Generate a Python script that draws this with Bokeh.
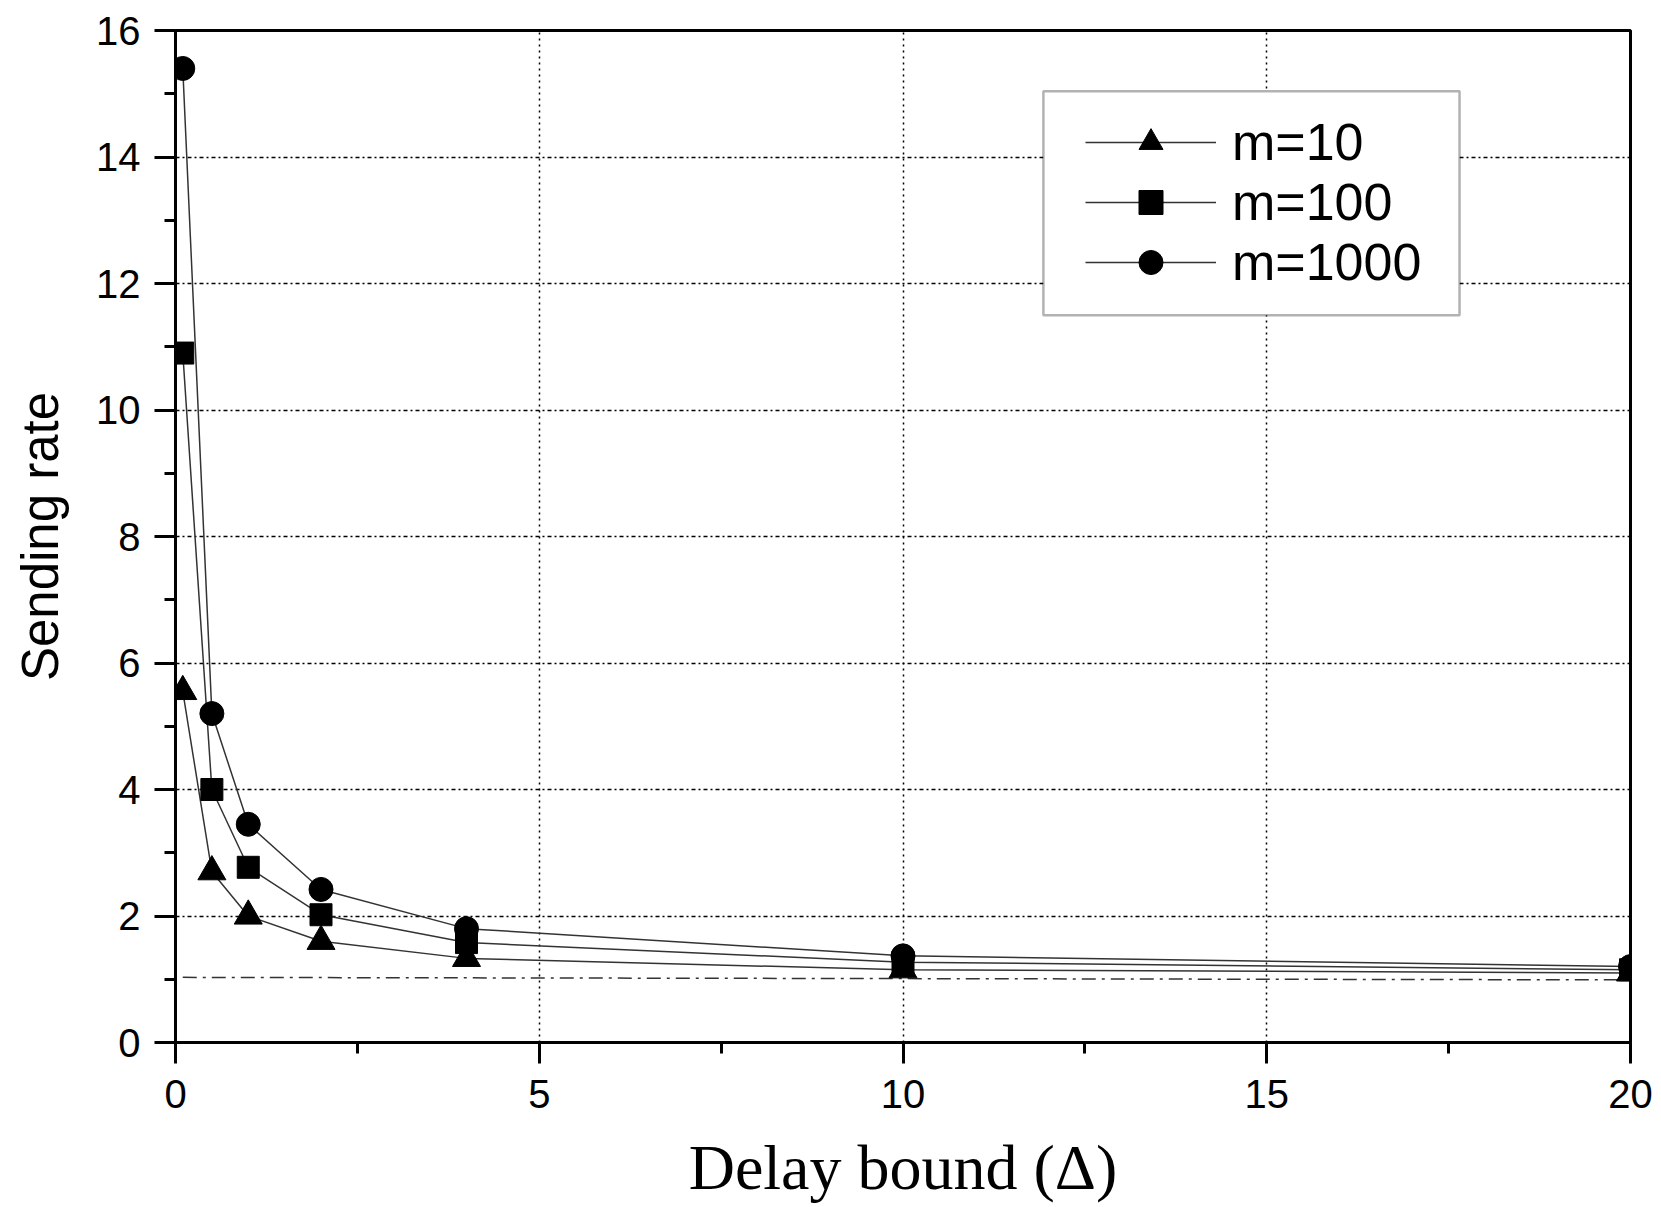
from bokeh.plotting import figure
from bokeh.models import (Range1d, FixedTicker, Legend, LegendItem, BoxAnnotation)
from bokeh.embed import file_html
from bokeh.resources import INLINE

# ---- data ----
delay = [0.1, 0.5, 1, 2, 4, 10, 20]
rate_m10 = [5.55, 2.7, 2.0, 1.6, 1.33, 1.15, 1.1]
rate_m100 = [10.9, 4.0, 2.77, 2.02, 1.58, 1.27, 1.15]
rate_m1000 = [15.4, 5.2, 3.45, 2.42, 1.8, 1.37, 1.2]
bound_x = [0.1, 20]
bound_y = [1.03, 0.99]
x_ticks = [0, 5, 10, 15, 20]
y_ticks = [0, 2, 4, 6, 8, 10, 12, 14, 16]
labels = ["m=10", "m=100", "m=1000"]

SANS = "Liberation Sans"
SERIF = "Liberation Serif"

p = figure(width=1656, height=1207, output_backend="svg", toolbar_location=None,
           x_range=Range1d(0, 20), y_range=Range1d(0, 16),
           min_border_left=175, min_border_right=26, min_border_top=30, min_border_bottom=165)

p.outline_line_color = "black"
p.outline_line_width = 3

# axes
for ax in (p.xaxis[0], p.yaxis[0]):
    ax.axis_line_width = 3
    ax.major_tick_line_width = 3
    ax.minor_tick_line_width = 3
    ax.major_tick_out = 21
    ax.major_tick_in = 0
    ax.minor_tick_out = 11
    ax.minor_tick_in = 0
    ax.major_label_text_font = SANS
    ax.major_label_text_font_size = "40px"
    ax.major_label_text_color = "black"
    ax.axis_label_text_font_style = "normal"
    ax.axis_label_text_color = "black"

p.xaxis.ticker = FixedTicker(ticks=x_ticks, minor_ticks=[2.5, 7.5, 12.5, 17.5])
p.yaxis.ticker = FixedTicker(ticks=y_ticks, minor_ticks=[1, 3, 5, 7, 9, 11, 13, 15])
p.xaxis.major_label_standoff = 16
p.yaxis.major_label_standoff = 14

p.xaxis.axis_label = "Delay bound (\u0394)"
p.xaxis.axis_label_text_font = SERIF
p.xaxis.axis_label_text_font_size = "64px"
p.xaxis.axis_label_standoff = 21

p.yaxis.axis_label = "Sending rate"
p.yaxis.axis_label_text_font = SANS
p.yaxis.axis_label_text_font_size = "51px"
p.yaxis.axis_label_standoff = 24

# grids
p.xgrid.grid_line_color = "black"
p.xgrid.grid_line_width = 1.5
p.xgrid.grid_line_dash = "2 4"
p.ygrid.grid_line_color = "black"
p.ygrid.grid_line_width = 1.5
p.ygrid.grid_line_dash = "4 3 2 3"

# bound line
p.line(bound_x, bound_y, line_color="#333333", line_width=1.5, line_dash="14 6 3 6")

lc = "#333333"
l1 = p.line(delay, rate_m10, line_color=lc, line_width=1.5)
s1 = p.scatter(delay, rate_m10, marker="triangle", size=28, color="black")
l2 = p.line(delay, rate_m100, line_color=lc, line_width=1.5)
s2 = p.scatter(delay, rate_m100, marker="square", size=22, color="black")
l3 = p.line(delay, rate_m1000, line_color=lc, line_width=1.5)
s3 = p.scatter(delay, rate_m1000, marker="circle", size=24, color="black")

# legend frame
box = BoxAnnotation(left=11.93, right=17.65, bottom=11.5, top=15.04,
                    fill_color="white", fill_alpha=1.0,
                    line_color="black", line_width=2.5, level="annotation")
p.add_layout(box)

legend = Legend(items=[LegendItem(label=labels[0], renderers=[l1, s1]),
                       LegendItem(label=labels[1], renderers=[l2, s2]),
                       LegendItem(label=labels[2], renderers=[l3, s3])],
                location=(910, 750), orientation="vertical",
                border_line_alpha=0, background_fill_alpha=0,
                padding=0, margin=0, spacing=0,
                glyph_width=131, glyph_height=60, label_height=60,
                label_standoff=16,
                label_text_font=SANS, label_text_font_size="52px",
                label_text_color="black", label_text_baseline="middle")
p.add_layout(legend)

open("out.html", "w").write(file_html(p, INLINE))
